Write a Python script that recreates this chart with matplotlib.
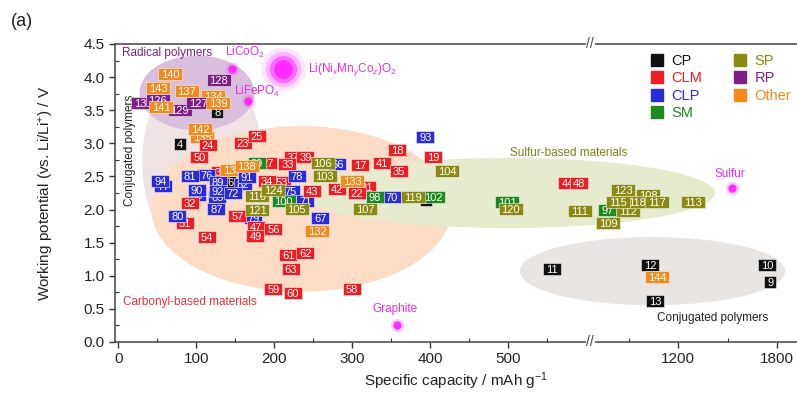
import numpy as np
import matplotlib
matplotlib.use('Agg')
import matplotlib.pyplot as plt
from matplotlib.patches import Ellipse
from matplotlib.lines import Line2D
from matplotlib.path import Path

plt.rcParams['font.family'] = ['Liberation Sans', 'DejaVu Sans']
plt.rcParams['mathtext.fontset'] = 'custom'
plt.rcParams['mathtext.rm'] = 'Liberation Sans'
plt.rcParams['mathtext.it'] = 'Liberation Sans:italic'

# --- data: label, specific capacity (mAh/g), working potential (V) ---
cp_ids = ['6', '7', '4', '8', '11', '12', '13', '10', '9']
cp_cap = [144, 395, 79, 127, 556, 1030, 1061, 1739, 1758]
cp_v = [2.42, 2.14, 2.99, 3.47, 1.10, 1.16, 0.62, 1.16, 0.91]

clm_ids = ['27', '37', '53', '21', '31', '44', '24', '23', '25', '50', '32', '51', '57', '47', '49', '56',
           '54', '34', '33', '39', '43', '42', '22', '17', '41', '18', '35', '19', '48', '61', '62', '63',
           '59', '60', '58']
clm_cap = [192, 224, 210, 319, 131, 576, 115, 160, 178, 104, 92, 86, 153, 177, 176, 199,
           114, 191, 217, 240, 249, 281, 306, 310, 338, 358, 360, 404, 591, 218, 240, 221,
           199, 224, 300]
clm_v = [2.70, 2.79, 2.42, 2.34, 2.57, 2.40, 2.98, 3.01, 3.11, 2.79, 2.10, 1.80, 1.90, 1.74, 1.60, 1.71,
         1.59, 2.43, 2.69, 2.79, 2.28, 2.31, 2.25, 2.67, 2.70, 2.90, 2.58, 2.79, 2.40, 1.31, 1.34, 1.10,
         0.80, 0.74, 0.80]

clp_ids = ['77', '76', '89', '86', '85', '82', '79', '66', '75', '71', '93', '94', '81', '90', '92',
           '87', '80', '72', '91', '78', '67', '70']
clp_cap = [58, 113, 128, 101, 127, 160, 173, 281, 221, 240, 394, 54, 92, 101, 128,
           126, 76, 147, 165, 229, 259, 351]
clp_v = [2.36, 2.52, 2.42, 2.22, 2.19, 2.39, 1.87, 2.69, 2.28, 2.13, 3.10, 2.43, 2.51, 2.30, 2.28,
         2.01, 1.90, 2.25, 2.49, 2.51, 1.87, 2.19]

sm_ids = ['99', '102', '101', '100', '98', '97']
sm_cap = [178, 404, 499, 212, 329, 770]
sm_v = [2.70, 2.19, 2.11, 2.13, 2.19, 1.99]

sp_ids = ['108', '112', '118', '106', '103', '116', '124', '121', '105', '107', '119', '104', '120',
          '111', '123', '115', '117', '113', '109']
sp_cap = [1018, 897, 952, 262, 265, 178, 199, 178, 229, 317, 378, 422, 503,
          592, 867, 836, 1073, 1291, 776]
sp_v = [2.22, 1.98, 2.11, 2.70, 2.51, 2.21, 2.30, 1.99, 2.01, 2.01, 2.19, 2.58, 2.01,
        1.98, 2.30, 2.11, 2.11, 2.11, 1.80]

rp_ids = ['130', '126', '128', '129', '127']
rp_cap = [32, 51, 129, 79, 103]
rp_v = [3.61, 3.66, 3.96, 3.50, 3.61]

oth_ids = ['134', '135', '136', '140', '143', '137', '141', '139', '142', '138', '133', '132', '144']
oth_cap = [122, 108, 146, 67, 51, 88, 55, 128, 105, 165, 300, 255, 1073]
oth_v = [3.72, 3.10, 2.60, 4.05, 3.84, 3.79, 3.55, 3.61, 3.22, 2.66, 2.43, 1.68, 0.98]

hidden = {'6', '7', '27', '37', '53', '21', '31', '44', '77', '76', '89', '86', '85', '82', '79',
          '66', '75', '71', '99', '102', '101', '108', '112', '118', '130', '126', '134', '135',
          '136', '12'}

# reference materials (capacity, potential)
ref_names = ['LiCoO$_2$', 'Li(Ni$_x$Mn$_y$Co$_z$)O$_2$', 'LiFePO$_4$', 'Graphite', 'Sulfur']
ref_cap = [146, 211, 167, 358, 1527]
ref_v = [4.12, 4.12, 3.64, 0.26, 2.33]

categories = ['CP', 'CLM', 'CLP', 'SM', 'SP', 'RP', 'Other']
colors = ['#111111', '#ee1d23', '#2b2bd9', '#1c8a1c', '#8a8a12', '#7e1f86', '#f28a1e']

# broken x axis: 0-605 linear, then compressed 666-1920
L, R, K, G = 605.0, 666.0, 0.2115, 1e-4
SR = L + (R - L) * G


def fwd(x):
    x = np.asarray(x, float)
    return np.where(x <= L, x, np.where(x >= R, SR + (x - R) * K, L + (x - L) * G))


def inv(s):
    s = np.asarray(s, float)
    return np.where(s <= L, s, np.where(s >= SR, R + (s - SR) / K, L + (s - L) / G))


def box_marker(n):
    # rectangle marker sized to the number of digits, returns (path, size in points)
    w = {1: 12.0, 2: 17.5, 3: 24.0}[n]
    h = 12.5
    verts = [(-w / 2, -h / 2), (w / 2, -h / 2), (w / 2, h / 2), (-w / 2, h / 2), (-w / 2, -h / 2)]
    return Path(verts, closed=True), max(w, h) * 72 / 100


fig = plt.figure(figsize=(7.97, 3.93), dpi=100)
ax = fig.add_axes([0.1443, 0.1298, 0.8557, 0.7583])
ax.set_xscale('function', functions=(fwd, inv))
ax.set_xlim(-4, 1920)
ax.set_ylim(0, 4.5)

# shaded regions (centre capacity, centre V, width in scaled units, height V, colour)
tr = ax.transLimits + ax.transAxes
regions = [
    (108, 2.72, 154, 3.0, '#efe4e3'),
    (235, 2.01, 385, 2.5, '#fddcc6'),
    (499, 2.25, 532, 1.06, '#e5ebcc'),
    (1044, 1.07, 340, 1.03, '#e9e5e3'),
    (101, 3.76, 147, 1.13, '#d9bfdc'),
]
for cx, cy, w, h, c in regions:
    ax.add_patch(Ellipse((float(fwd(cx)), cy), w, h, transform=tr, fc=c, ec='none', zorder=1))

# magenta reference points with glow
for name, c, v in zip(ref_names, ref_cap, ref_v):
    big = 'Ni' in name
    for s, a in ([(1000, 0.12), (650, 0.25), (380, 0.55), (180, 1)] if big else [(90, 0.25), (35, 1)]):
        ax.scatter(c, v, s=s, color='#ff2bff', alpha=a, lw=0, zorder=2)

series = [(cp_ids, cp_cap, cp_v), (clm_ids, clm_cap, clm_v), (clp_ids, clp_cap, clp_v),
          (sm_ids, sm_cap, sm_v), (sp_ids, sp_cap, sp_v), (rp_ids, rp_cap, rp_v),
          (oth_ids, oth_cap, oth_v)]
k = 0
for (ids, caps, vs), col in zip(series, colors):
    for lab, c, v in zip(ids, caps, vs):
        k += 1
        z = (3 if lab in hidden else 4) + k * 0.001
        mk, ms = box_marker(len(lab))
        ax.scatter([c], [v], marker=mk, s=ms ** 2, color=col, edgecolors='#f2f2f2',
                   linewidths=0.4, zorder=z)
        ax.text(c, v, lab, ha='center', va='center_baseline', color='white', fontsize=8,
                zorder=z + 0.0005)

# annotations
mag = '#e62ee6'
ax.text(63, 4.37, 'Radical polymers', color='#7e1f86', fontsize=8.5, ha='center', va='center')
ax.text(163, 4.37, 'LiCoO$_2$', color=mag, fontsize=8.5, ha='center', va='center')
ax.text(300, 4.11, ref_names[1], color=mag, fontsize=8.5, ha='center', va='center')
ax.text(178, 3.78, 'LiFePO$_4$', color=mag, fontsize=8.5, ha='center', va='center')
ax.text(15, 2.9, 'Conjugated polymers', color='#222222', fontsize=8.5, ha='center', va='center',
        rotation=90)
ax.text(577, 2.85, 'Sulfur-based materials', color='#7f7f1a', fontsize=8.5, ha='center', va='center')
ax.text(1515, 2.54, 'Sulfur', color=mag, fontsize=8.5, ha='center', va='center')
ax.text(92, 0.60, 'Carbonyl-based materials', color='#e8333a', fontsize=8.5, ha='center', va='center')
ax.text(355, 0.50, 'Graphite', color=mag, fontsize=8.5, ha='center', va='center')
ax.text(1406, 0.36, 'Conjugated polymers', color='#222222', fontsize=8.5, ha='center', va='center')

# axes styling
ax.xaxis.set_major_locator(matplotlib.ticker.FixedLocator([0, 100, 200, 300, 400, 500, 1200, 1800]))
ax.xaxis.set_minor_locator(matplotlib.ticker.FixedLocator([50, 150, 250, 350, 450, 550, 900, 1500]))
ax.xaxis.set_major_formatter(matplotlib.ticker.FixedFormatter(['0', '100', '200', '300', '400', '500',
                                                              '1200', '1800']))
ax.yaxis.set_major_locator(matplotlib.ticker.MultipleLocator(0.5))
ax.yaxis.set_minor_locator(matplotlib.ticker.MultipleLocator(0.25))
ax.yaxis.set_major_formatter(matplotlib.ticker.FormatStrFormatter('%.1f'))
ax.tick_params(which='major', direction='out', length=4, width=1, labelsize=11, colors='#333333',
               labelcolor='#222222')
ax.tick_params(which='minor', direction='in', length=3, width=0.8, colors='#333333')
for s in ['left', 'bottom', 'top']:
    ax.spines[s].set_color('#444444')
    ax.spines[s].set_linewidth(1.1)
ax.spines['right'].set_visible(False)

ax.set_xlabel('Specific capacity / mAh g$^{-1}$', fontsize=11, color='#222222', labelpad=3)
ax.set_ylabel('Working potential (vs. Li/Li$^{+}$) / V', fontsize=11, color='#222222', labelpad=20)
fig.text(0.014, 0.935, '(a)', fontsize=13, color='#222222')

# break marks
for yy in (0, 1):
    ax.text(L + 1, yy, '//', transform=ax.get_xaxis_transform(), ha='center', va='center',
            fontsize=10, color='#444444', clip_on=False, zorder=6,
            bbox=dict(fc='white', ec='none', pad=0.5))

# legend
handles = [Line2D([], [], marker='s', ls='none', color=c, markersize=9) for c in colors]
leg = ax.legend(handles, categories, ncol=2, loc='upper left', bbox_to_anchor=(0.777, 0.985),
                frameon=False, fontsize=10.5, handlelength=0.8, handletextpad=0.6,
                columnspacing=2.2, labelspacing=0.22, borderaxespad=0)
for t, c in zip(leg.get_texts(), colors):
    t.set_color(c)

fig.savefig('out.png', dpi=100)
